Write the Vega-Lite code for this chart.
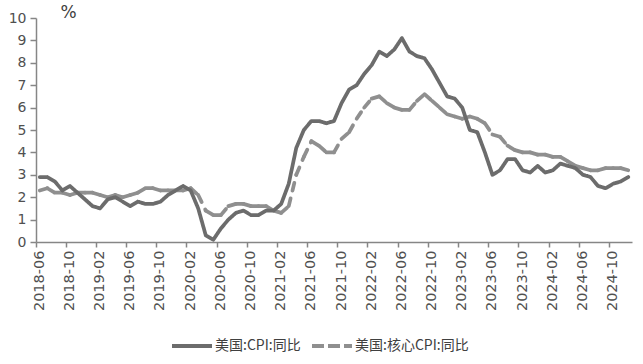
{
  "$schema": "https://vega.github.io/schema/vega-lite/v6.json",
  "width": 596,
  "height": 224,
  "autosize": {"type": "none"},
  "padding": {"left": 36, "top": 18, "right": 11, "bottom": 122},
  "background": "white",
  "config": {"view": {"stroke": null}, "font": "DejaVu Sans"},
  "data": {"values": [
    {"date":"2018-06","series":"美国:CPI:同比","value":2.9},{"date":"2018-07","series":"美国:CPI:同比","value":2.9},{"date":"2018-08","series":"美国:CPI:同比","value":2.7},{"date":"2018-09","series":"美国:CPI:同比","value":2.3},{"date":"2018-10","series":"美国:CPI:同比","value":2.5},{"date":"2018-11","series":"美国:CPI:同比","value":2.2},{"date":"2018-12","series":"美国:CPI:同比","value":1.9},
    {"date":"2019-01","series":"美国:CPI:同比","value":1.6},{"date":"2019-02","series":"美国:CPI:同比","value":1.5},{"date":"2019-03","series":"美国:CPI:同比","value":1.9},{"date":"2019-04","series":"美国:CPI:同比","value":2.0},{"date":"2019-05","series":"美国:CPI:同比","value":1.8},{"date":"2019-06","series":"美国:CPI:同比","value":1.6},{"date":"2019-07","series":"美国:CPI:同比","value":1.8},{"date":"2019-08","series":"美国:CPI:同比","value":1.7},{"date":"2019-09","series":"美国:CPI:同比","value":1.7},{"date":"2019-10","series":"美国:CPI:同比","value":1.8},{"date":"2019-11","series":"美国:CPI:同比","value":2.1},{"date":"2019-12","series":"美国:CPI:同比","value":2.3},
    {"date":"2020-01","series":"美国:CPI:同比","value":2.5},{"date":"2020-02","series":"美国:CPI:同比","value":2.3},{"date":"2020-03","series":"美国:CPI:同比","value":1.5},{"date":"2020-04","series":"美国:CPI:同比","value":0.3},{"date":"2020-05","series":"美国:CPI:同比","value":0.1},{"date":"2020-06","series":"美国:CPI:同比","value":0.6},{"date":"2020-07","series":"美国:CPI:同比","value":1.0},{"date":"2020-08","series":"美国:CPI:同比","value":1.3},{"date":"2020-09","series":"美国:CPI:同比","value":1.4},{"date":"2020-10","series":"美国:CPI:同比","value":1.2},{"date":"2020-11","series":"美国:CPI:同比","value":1.2},{"date":"2020-12","series":"美国:CPI:同比","value":1.4},
    {"date":"2021-01","series":"美国:CPI:同比","value":1.4},{"date":"2021-02","series":"美国:CPI:同比","value":1.7},{"date":"2021-03","series":"美国:CPI:同比","value":2.6},{"date":"2021-04","series":"美国:CPI:同比","value":4.2},{"date":"2021-05","series":"美国:CPI:同比","value":5.0},{"date":"2021-06","series":"美国:CPI:同比","value":5.4},{"date":"2021-07","series":"美国:CPI:同比","value":5.4},{"date":"2021-08","series":"美国:CPI:同比","value":5.3},{"date":"2021-09","series":"美国:CPI:同比","value":5.4},{"date":"2021-10","series":"美国:CPI:同比","value":6.2},{"date":"2021-11","series":"美国:CPI:同比","value":6.8},{"date":"2021-12","series":"美国:CPI:同比","value":7.0},
    {"date":"2022-01","series":"美国:CPI:同比","value":7.5},{"date":"2022-02","series":"美国:CPI:同比","value":7.9},{"date":"2022-03","series":"美国:CPI:同比","value":8.5},{"date":"2022-04","series":"美国:CPI:同比","value":8.3},{"date":"2022-05","series":"美国:CPI:同比","value":8.6},{"date":"2022-06","series":"美国:CPI:同比","value":9.1},{"date":"2022-07","series":"美国:CPI:同比","value":8.5},{"date":"2022-08","series":"美国:CPI:同比","value":8.3},{"date":"2022-09","series":"美国:CPI:同比","value":8.2},{"date":"2022-10","series":"美国:CPI:同比","value":7.7},{"date":"2022-11","series":"美国:CPI:同比","value":7.1},{"date":"2022-12","series":"美国:CPI:同比","value":6.5},
    {"date":"2023-01","series":"美国:CPI:同比","value":6.4},{"date":"2023-02","series":"美国:CPI:同比","value":6.0},{"date":"2023-03","series":"美国:CPI:同比","value":5.0},{"date":"2023-04","series":"美国:CPI:同比","value":4.9},{"date":"2023-05","series":"美国:CPI:同比","value":4.0},{"date":"2023-06","series":"美国:CPI:同比","value":3.0},{"date":"2023-07","series":"美国:CPI:同比","value":3.2},{"date":"2023-08","series":"美国:CPI:同比","value":3.7},{"date":"2023-09","series":"美国:CPI:同比","value":3.7},{"date":"2023-10","series":"美国:CPI:同比","value":3.2},{"date":"2023-11","series":"美国:CPI:同比","value":3.1},{"date":"2023-12","series":"美国:CPI:同比","value":3.4},
    {"date":"2024-01","series":"美国:CPI:同比","value":3.1},{"date":"2024-02","series":"美国:CPI:同比","value":3.2},{"date":"2024-03","series":"美国:CPI:同比","value":3.5},{"date":"2024-04","series":"美国:CPI:同比","value":3.4},{"date":"2024-05","series":"美国:CPI:同比","value":3.3},{"date":"2024-06","series":"美国:CPI:同比","value":3.0},{"date":"2024-07","series":"美国:CPI:同比","value":2.9},{"date":"2024-08","series":"美国:CPI:同比","value":2.5},{"date":"2024-09","series":"美国:CPI:同比","value":2.4},{"date":"2024-10","series":"美国:CPI:同比","value":2.6},{"date":"2024-11","series":"美国:CPI:同比","value":2.7},{"date":"2024-12","series":"美国:CPI:同比","value":2.9},
    {"date":"2018-06","series":"美国:核心CPI:同比","value":2.3},{"date":"2018-07","series":"美国:核心CPI:同比","value":2.4},{"date":"2018-08","series":"美国:核心CPI:同比","value":2.2},{"date":"2018-09","series":"美国:核心CPI:同比","value":2.2},{"date":"2018-10","series":"美国:核心CPI:同比","value":2.1},{"date":"2018-11","series":"美国:核心CPI:同比","value":2.2},{"date":"2018-12","series":"美国:核心CPI:同比","value":2.2},
    {"date":"2019-01","series":"美国:核心CPI:同比","value":2.2},{"date":"2019-02","series":"美国:核心CPI:同比","value":2.1},{"date":"2019-03","series":"美国:核心CPI:同比","value":2.0},{"date":"2019-04","series":"美国:核心CPI:同比","value":2.1},{"date":"2019-05","series":"美国:核心CPI:同比","value":2.0},{"date":"2019-06","series":"美国:核心CPI:同比","value":2.1},{"date":"2019-07","series":"美国:核心CPI:同比","value":2.2},{"date":"2019-08","series":"美国:核心CPI:同比","value":2.4},{"date":"2019-09","series":"美国:核心CPI:同比","value":2.4},{"date":"2019-10","series":"美国:核心CPI:同比","value":2.3},{"date":"2019-11","series":"美国:核心CPI:同比","value":2.3},{"date":"2019-12","series":"美国:核心CPI:同比","value":2.3},
    {"date":"2020-01","series":"美国:核心CPI:同比","value":2.3},{"date":"2020-02","series":"美国:核心CPI:同比","value":2.4},{"date":"2020-03","series":"美国:核心CPI:同比","value":2.1},{"date":"2020-04","series":"美国:核心CPI:同比","value":1.4},{"date":"2020-05","series":"美国:核心CPI:同比","value":1.2},{"date":"2020-06","series":"美国:核心CPI:同比","value":1.2},{"date":"2020-07","series":"美国:核心CPI:同比","value":1.6},{"date":"2020-08","series":"美国:核心CPI:同比","value":1.7},{"date":"2020-09","series":"美国:核心CPI:同比","value":1.7},{"date":"2020-10","series":"美国:核心CPI:同比","value":1.6},{"date":"2020-11","series":"美国:核心CPI:同比","value":1.6},{"date":"2020-12","series":"美国:核心CPI:同比","value":1.6},
    {"date":"2021-01","series":"美国:核心CPI:同比","value":1.4},{"date":"2021-02","series":"美国:核心CPI:同比","value":1.3},{"date":"2021-03","series":"美国:核心CPI:同比","value":1.6},{"date":"2021-04","series":"美国:核心CPI:同比","value":3.0},{"date":"2021-05","series":"美国:核心CPI:同比","value":3.8},{"date":"2021-06","series":"美国:核心CPI:同比","value":4.5},{"date":"2021-07","series":"美国:核心CPI:同比","value":4.3},{"date":"2021-08","series":"美国:核心CPI:同比","value":4.0},{"date":"2021-09","series":"美国:核心CPI:同比","value":4.0},{"date":"2021-10","series":"美国:核心CPI:同比","value":4.6},{"date":"2021-11","series":"美国:核心CPI:同比","value":4.9},{"date":"2021-12","series":"美国:核心CPI:同比","value":5.5},
    {"date":"2022-01","series":"美国:核心CPI:同比","value":6.0},{"date":"2022-02","series":"美国:核心CPI:同比","value":6.4},{"date":"2022-03","series":"美国:核心CPI:同比","value":6.5},{"date":"2022-04","series":"美国:核心CPI:同比","value":6.2},{"date":"2022-05","series":"美国:核心CPI:同比","value":6.0},{"date":"2022-06","series":"美国:核心CPI:同比","value":5.9},{"date":"2022-07","series":"美国:核心CPI:同比","value":5.9},{"date":"2022-08","series":"美国:核心CPI:同比","value":6.3},{"date":"2022-09","series":"美国:核心CPI:同比","value":6.6},{"date":"2022-10","series":"美国:核心CPI:同比","value":6.3},{"date":"2022-11","series":"美国:核心CPI:同比","value":6.0},{"date":"2022-12","series":"美国:核心CPI:同比","value":5.7},
    {"date":"2023-01","series":"美国:核心CPI:同比","value":5.6},{"date":"2023-02","series":"美国:核心CPI:同比","value":5.5},{"date":"2023-03","series":"美国:核心CPI:同比","value":5.6},{"date":"2023-04","series":"美国:核心CPI:同比","value":5.5},{"date":"2023-05","series":"美国:核心CPI:同比","value":5.3},{"date":"2023-06","series":"美国:核心CPI:同比","value":4.8},{"date":"2023-07","series":"美国:核心CPI:同比","value":4.7},{"date":"2023-08","series":"美国:核心CPI:同比","value":4.3},{"date":"2023-09","series":"美国:核心CPI:同比","value":4.1},{"date":"2023-10","series":"美国:核心CPI:同比","value":4.0},{"date":"2023-11","series":"美国:核心CPI:同比","value":4.0},{"date":"2023-12","series":"美国:核心CPI:同比","value":3.9},
    {"date":"2024-01","series":"美国:核心CPI:同比","value":3.9},{"date":"2024-02","series":"美国:核心CPI:同比","value":3.8},{"date":"2024-03","series":"美国:核心CPI:同比","value":3.8},{"date":"2024-04","series":"美国:核心CPI:同比","value":3.6},{"date":"2024-05","series":"美国:核心CPI:同比","value":3.4},{"date":"2024-06","series":"美国:核心CPI:同比","value":3.3},{"date":"2024-07","series":"美国:核心CPI:同比","value":3.2},{"date":"2024-08","series":"美国:核心CPI:同比","value":3.2},{"date":"2024-09","series":"美国:核心CPI:同比","value":3.3},{"date":"2024-10","series":"美国:核心CPI:同比","value":3.3},{"date":"2024-11","series":"美国:核心CPI:同比","value":3.3},{"date":"2024-12","series":"美国:核心CPI:同比","value":3.2}
  ]},
  "encoding": {
    "x": {
      "field": "date", "type": "ordinal", "sort": "ascending",
      "scale": {"type": "band", "paddingInner": 0, "paddingOuter": 0},
      "axis": {
        "title": null, "grid": false,
        "values": ["2018-06","2018-10","2019-02","2019-06","2019-10","2020-02","2020-06","2020-10","2021-02","2021-06","2021-10","2022-02","2022-06","2022-10","2023-02","2023-06","2023-10","2024-02","2024-06","2024-10"],
        "bandPosition": 0,
        "labelAngle": -90, "labelAlign": "right", "labelBaseline": "middle",
        "labelFont": "DejaVu Sans", "labelFontSize": 14.5, "labelColor": "#505050", "labelPadding": 3,
        "tickSize": 5, "tickColor": "#868686", "domainColor": "#868686", "domainWidth": 1.5, "tickWidth": 1.5
      }
    },
    "y": {
      "field": "value", "type": "quantitative",
      "scale": {"domain": [0, 10], "nice": false},
      "axis": {
        "values": [0,1,2,3,4,5,6,7,8,9,10], "grid": false,
        "title": "%", "titleAngle": 0, "titleX": 32, "titleY": -6, "titleAlign": "center", "titleBaseline": "middle",
        "titleFont": "DejaVu Sans", "titleFontSize": 17, "titleFontWeight": "normal", "titleColor": "#404040",
        "labelFont": "DejaVu Sans", "labelFontSize": 14, "labelColor": "#505050", "labelPadding": 4,
        "tickSize": 6, "tickColor": "#868686", "domainColor": "#868686", "domainWidth": 1.5, "tickWidth": 1.5
      }
    },
    "color": {
      "field": "series", "type": "nominal",
      "scale": {"domain": ["美国:CPI:同比", "美国:核心CPI:同比"], "range": ["#6c6c6c", "#8f8f8f"]},
      "legend": {
        "title": null, "orient": "none", "direction": "horizontal", "legendX": 134, "legendY": 306,
        "symbolType": "stroke", "symbolSize": 1600, "symbolStrokeWidth": 4,
        "labelFont": "Noto Sans CJK SC", "labelFontSize": 14, "labelColor": "#404040",
        "labelOffset": 1, "columnPadding": 3
      }
    }
  },
  "layer": [
    {
      "transform": [
        {"filter": "datum.series === '美国:核心CPI:同比'"},
        {"window": [{"op": "lead", "field": "date", "as": "date2"}, {"op": "lead", "field": "value", "as": "value2"}], "sort": [{"field": "date"}]},
        {"filter": "datum.date2 != null"}
      ],
      "mark": {"type": "rule", "strokeWidth": 3.75, "strokeCap": "round", "strokeDash": [8, 8]},
      "encoding": {"x2": {"field": "date2"}, "y2": {"field": "value2"}}
    },
    {
      "transform": [{"filter": "datum.series === '美国:CPI:同比'"}],
      "mark": {"type": "line", "strokeWidth": 3.75, "strokeCap": "round", "strokeJoin": "round"},
      "encoding": {
        "strokeDash": {
          "field": "series", "type": "nominal",
          "scale": {"domain": ["美国:CPI:同比", "美国:核心CPI:同比"], "range": [[1, 0], [12, 4]]},
          "legend": {
            "title": null, "orient": "none", "direction": "horizontal", "legendX": 134, "legendY": 306,
            "symbolType": "stroke", "symbolSize": 1600, "symbolStrokeWidth": 4,
            "labelFont": "Noto Sans CJK SC", "labelFontSize": 14, "labelColor": "#404040",
            "labelOffset": 1, "columnPadding": 3
          }
        }
      }
    }
  ]
}
